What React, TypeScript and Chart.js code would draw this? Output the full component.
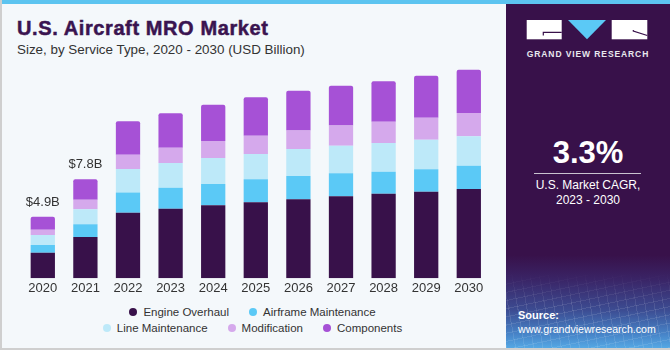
import React, { useEffect, useRef } from "react";
import { Chart, registerables } from "chart.js";

Chart.register(...registerables);

// ---- data (USD Billion) ----
const years = ["2020", "2021", "2022", "2023", "2024", "2025", "2026", "2027", "2028", "2029", "2030"];
const engineOverhaul = [2.03, 3.28, 5.21, 5.52, 5.79, 6.03, 6.27, 6.51, 6.71, 6.87, 7.09];
const airframeMaintenance = [0.61, 1.01, 1.59, 1.67, 1.69, 1.83, 1.85, 1.83, 1.75, 1.79, 1.85];
const lineMaintenance = [0.79, 1.19, 1.88, 1.96, 2.06, 2.01, 2.14, 2.17, 2.28, 2.33, 2.33];
const modification = [0.42, 0.76, 1.13, 1.21, 1.35, 1.45, 1.48, 1.61, 1.69, 1.75, 1.85];
const components = [1.03, 1.62, 2.65, 2.73, 2.88, 3.05, 3.14, 3.17, 3.21, 3.33, 3.44];
const totalLabels = ["$4.9B", "$7.8B"];

const seriesNames = ["Engine Overhaul", "Airframe Maintenance", "Line Maintenance", "Modification", "Components"];
const seriesColors = ["#38114a", "#5bc9f6", "#bde9f9", "#d5a9ec", "#a651d6"];
const seriesData = [engineOverhaul, airframeMaintenance, lineMaintenance, modification, components];

const FONT = "'Liberation Sans', Arial, sans-serif";

const totalLabelPlugin = {
  id: "totalLabels",
  afterDatasetsDraw(chart: any) {
    const { ctx, scales } = chart;
    const x = scales.x;
    const y = scales.y;
    ctx.save();
    ctx.font = "13px " + FONT;
    ctx.fillStyle = "#333333";
    ctx.textAlign = "center";
    ctx.textBaseline = "middle";
    totalLabels.forEach((label, i) => {
      const total = chart.data.datasets.reduce((s: number, d: any) => s + (d.data[i] as number), 0);
      ctx.fillText(label, x.getPixelForValue(i), y.getPixelForValue(total) - 14.7);
    });
    ctx.restore();
  },
};

function BarChart() {
  const ref = useRef<HTMLCanvasElement | null>(null);
  useEffect(() => {
    if (!ref.current) return;
    const chart = new Chart(ref.current, {
      type: "bar",
      data: {
        labels: years,
        datasets: seriesData.map((d, i) => ({
          label: seriesNames[i],
          data: d,
          backgroundColor: seriesColors[i],
          borderWidth: 0,
          borderRadius: i === seriesData.length - 1 ? { topLeft: 2, topRight: 2, bottomLeft: 0, bottomRight: 0 } : 0,
          borderSkipped: false,
          barPercentage: 0.57,
          categoryPercentage: 1,
        })),
      },
      options: {
        animation: false,
        responsive: false,
        maintainAspectRatio: false,
        layout: { padding: { left: 21.5, right: 14.9, top: 64.1, bottom: 2.1 } },
        plugins: { legend: { display: false }, tooltip: { enabled: false } },
        scales: {
          x: {
            stacked: true,
            grid: { display: false, drawTicks: false },
            border: { display: false },
            ticks: { color: "#333333", font: { family: FONT, size: 13 }, padding: 2 },
          },
          y: { stacked: true, display: false, min: 0, max: 17 },
        },
      },
      plugins: [totalLabelPlugin],
    } as any);
    return () => chart.destroy();
  }, []);
  return (
    <canvas
      ref={ref}
      width={505}
      height={300}
      style={{ position: "absolute", left: 0, top: 0, width: 505, height: 300, display: "block" }}
    />
  );
}

function Legend() {
  const rows = [[0, 1], [2, 3, 4]];
  const tops = [305.3, 321.3];
  return (
    <>
      {rows.map((row, r) => (
        <div
          key={r}
          style={{
            position: "absolute",
            left: 0,
            top: tops[r],
            width: 505,
            height: 14,
            display: "flex",
            justifyContent: "center",
            alignItems: "center",
            gap: 20,
            fontFamily: FONT,
            fontSize: 11.5,
            color: "#333333",
            whiteSpace: "nowrap",
          }}
        >
          {row.map((i) => (
            <div key={i} style={{ display: "flex", alignItems: "center" }}>
              <span
                style={{
                  display: "inline-block",
                  width: 8,
                  height: 8,
                  borderRadius: "50%",
                  background: seriesColors[i],
                  marginRight: 6,
                }}
              />
              <span>{seriesNames[i]}</span>
            </div>
          ))}
        </div>
      ))}
    </>
  );
}

function SidePanel() {
  return (
    <div
      style={{
        position: "absolute",
        left: 506,
        top: 4,
        width: 164,
        height: 344,
        background:
          "linear-gradient(to bottom, #38114a 0%, #38114a 73%, #3a2466 80%, #3c4c92 89%, #4784c8 96%, #55a8e4 100%)",
        overflow: "hidden",
        fontFamily: FONT,
        color: "#ffffff",
      }}
    >
      <div
        style={{
          position: "absolute",
          left: 0,
          bottom: 0,
          width: 164,
          height: 75,
          background:
            "repeating-linear-gradient(80deg, rgba(255,255,255,0.10) 0px, rgba(255,255,255,0.10) 1px, transparent 1px, transparent 9px), repeating-linear-gradient(-12deg, rgba(255,255,255,0.10) 0px, rgba(255,255,255,0.10) 1px, transparent 1px, transparent 8px)",
          WebkitMaskImage: "linear-gradient(to bottom, transparent 0%, black 45%)",
          maskImage: "linear-gradient(to bottom, transparent 0%, black 45%)",
        }}
      />
      <svg
        width={122}
        height={22}
        style={{ position: "absolute", left: 20, top: 15 }}
      >
        <rect x={0.7} y={1} width={35} height={19.3} fill="#ffffff" />
        <polyline points="35.7,13.3 17.3,13.3 17.3,16.5" fill="none" stroke="#38114a" strokeWidth={1.2} />
        <polygon points="42,1 80,1 61,20.3" fill="#5bc9f6" />
        <rect x={85.7} y={1} width={35.6} height={19.3} fill="#ffffff" />
        <polyline points="107.3,11 107.3,12 121.3,16.5" fill="none" stroke="#38114a" strokeWidth={1.2} />
      </svg>
      <div
        style={{
          position: "absolute",
          left: 0,
          top: 45,
          width: 164,
          textAlign: "center",
          fontSize: 8.5,
          fontWeight: 700,
          letterSpacing: 0.9,
          lineHeight: "11px",
          color: "#e8e8ee",
        }}
      >
        GRAND VIEW RESEARCH
      </div>
      <div
        style={{
          position: "absolute",
          left: 0,
          top: 131,
          width: 164,
          textAlign: "center",
          fontSize: 31,
          fontWeight: 700,
          lineHeight: "36px",
        }}
      >
        3.3%
      </div>
      <div
        style={{
          position: "absolute",
          left: 28,
          top: 168.6,
          width: 107,
          height: 1.5,
          background: "#c9c3d0",
        }}
      />
      <div
        style={{
          position: "absolute",
          left: 0,
          top: 174,
          width: 164,
          textAlign: "center",
          fontSize: 12,
          lineHeight: "15px",
        }}
      >
        U.S. Market CAGR,
        <br />
        2023 - 2030
      </div>
      <div
        style={{
          position: "absolute",
          left: 12,
          top: 304,
          fontSize: 11,
          fontWeight: 700,
          lineHeight: "14px",
        }}
      >
        Source:
      </div>
      <div
        style={{
          position: "absolute",
          left: 12,
          top: 318,
          fontSize: 10.6,
          lineHeight: "14px",
          whiteSpace: "nowrap",
        }}
      >
        www.grandviewresearch.com
      </div>
    </div>
  );
}

export default function App() {
  return (
    <div
      style={{
        position: "fixed",
        left: 0,
        top: 0,
        width: 670,
        height: 350,
        background: "#f4f8fb",
        overflow: "hidden",
        fontFamily: FONT,
      }}
    >
      <div style={{ position: "absolute", left: 0, top: 0, width: 670, height: 4, background: "#5cc4f0" }} />
      <div style={{ position: "absolute", left: 0, top: 0, width: 1.5, height: 350, background: "#cfcfcf" }} />
      <div style={{ position: "absolute", left: 0, top: 348, width: 670, height: 2, background: "#cfcfcf" }} />
      <div
        style={{
          position: "absolute",
          left: 17,
          top: 18,
          fontSize: 20,
          fontWeight: 700,
          lineHeight: "20px",
          letterSpacing: 0.6,
          color: "#3a1450",
          whiteSpace: "nowrap",
          WebkitTextStroke: "0.5px #3a1450",
        }}
      >
        U.S. Aircraft MRO Market
      </div>
      <div
        style={{
          position: "absolute",
          left: 17,
          top: 42,
          fontSize: 13.4,
          lineHeight: "16px",
          color: "#333333",
          whiteSpace: "nowrap",
        }}
      >
        Size, by Service Type, 2020 - 2030 (USD Billion)
      </div>
      <BarChart />
      <Legend />
      <SidePanel />
    </div>
  );
}
